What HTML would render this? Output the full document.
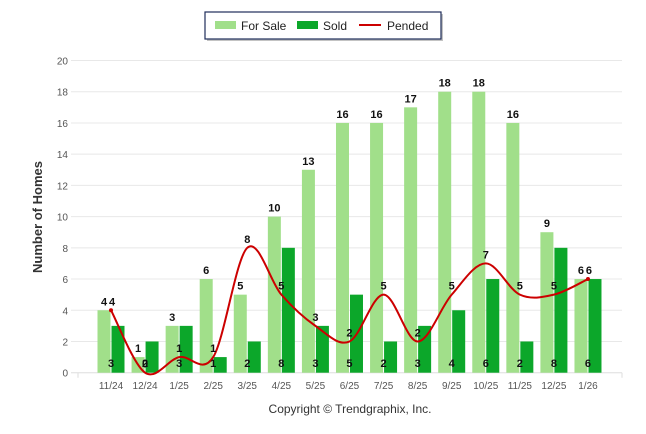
<!DOCTYPE html>
<html><head><meta charset="utf-8"><style>
html,body{margin:0;padding:0;background:#fff;}
svg{display:block;font-family:"Liberation Sans",Arial,sans-serif;}
</style></head><body>
<svg id="chart" width="646" height="434" viewBox="0 0 646 434" xmlns="http://www.w3.org/2000/svg">
<g id="grid"></g>
<g id="yticks"></g>
<g id="bars"></g>
<g id="line"></g>
<g id="labels"></g>
<g id="xticks"></g>
<text transform="translate(42,217) rotate(-90)" text-anchor="middle" font-size="13" font-weight="bold" fill="#333">Number of Homes</text>
<text x="350" y="413" text-anchor="middle" font-size="12" fill="#333">Copyright © Trendgraphix, Inc.</text>
<g>
<rect x="207" y="14" width="236" height="27" fill="#888" opacity="0.5"/>
<rect x="205" y="12" width="236" height="27" fill="#fff" stroke="#1f2d5a" stroke-width="1.2"/>
<g><rect x="215" y="21" width="21" height="8" fill="#a1df8a"/><text x="241" y="30" font-size="12" fill="#222">For Sale</text></g>
<g><rect x="297" y="21" width="21" height="8" fill="#0ca72a"/><text x="323" y="30" font-size="12" fill="#222">Sold</text></g>
<g><line x1="359" y1="25" x2="381" y2="25" stroke="#c00" stroke-width="2"/><text x="387" y="30" font-size="12" fill="#222">Pended</text></g>
</g>
</svg>
<script>
const categories=["11/24","12/24","1/25","2/25","3/25","4/25","5/25","6/25","7/25","8/25","9/25","10/25","11/25","12/25","1/26"];
const forSale=[4,1,3,6,5,10,13,16,16,17,18,18,16,9,6];
const sold=[3,2,3,1,2,8,3,5,2,3,4,6,2,8,6];
const pended=[4,0,1,1,8,5,3,2,5,2,5,7,5,5,6];
const yTicks=[0,2,4,6,8,10,12,14,16,18,20];
const NS="http://www.w3.org/2000/svg";
const y0=372.7,yTop=60.5,yMax=20;
function y(v){return y0-(v/yMax)*(y0-yTop);}
function xc(i){return 111+i*34.07;}
function mk(tag,attrs,parent,txt){const e=document.createElementNS(NS,tag);for(const k in attrs)e.setAttribute(k,attrs[k]);if(txt!==undefined)e.textContent=txt;parent.appendChild(e);return e;}
const grid=document.getElementById('grid'),yt=document.getElementById('yticks'),bars=document.getElementById('bars'),lab=document.getElementById('labels'),xt=document.getElementById('xticks'),ln=document.getElementById('line');
yTicks.forEach(v=>{
 const g=mk('line',{x1:71,x2:622,y1:y(v),y2:y(v),stroke:v===0?'#ddd':'#e8e8e8','stroke-width':1},grid);
 
 
 const t=mk('text',{x:68,y:y(v)+4,'text-anchor':'end','font-size':10,fill:'#555'},yt,v);
 
 
});
mk('line',{x1:78,x2:78,y1:y0,y2:y0+5,stroke:'#ddd'},xt);
mk('line',{x1:622,x2:622,y1:y0,y2:y0+5,stroke:'#ddd'},xt);
categories.forEach((c,i)=>{
 const cx=xc(i);
 const b1=mk('rect',{x:cx-13.5,y:y(forSale[i]),width:13,height:y0-y(forSale[i]),fill:'#a1df8a'},bars);
 
 
 const b2=mk('rect',{x:cx+0.5,y:y(sold[i]),width:13,height:y0-y(sold[i]),fill:'#0ca72a'},bars);
 
 
 const t1=mk('text',{x:cx-7,y:y(forSale[i])-5,'text-anchor':'middle','font-size':11,'font-weight':'bold',fill:'#111'},lab,forSale[i]);
 
 
 const t2=mk('text',{x:cx,y:367,'text-anchor':'middle','font-size':11,'font-weight':'bold',fill:'#111'},lab,sold[i]);
 
 
 const t3=mk('text',{x:cx+(i===0||i===14?1:0),y:y(pended[i])-5,'text-anchor':'middle','font-size':11,'font-weight':'bold',fill:'#111'},lab,pended[i]);
 
 
 const xl=mk('text',{x:cx,y:389,'text-anchor':'middle','font-size':10,fill:'#555'},xt,c);
 
 
});
const pts=pended.map((v,i)=>[xc(i),y(v)]);
let d='M'+pts[0][0]+','+pts[0][1];
for(let i=0;i<pts.length-1;i++){
 const p0=pts[i-1]||pts[i],p1=pts[i],p2=pts[i+1],p3=pts[i+2]||p2;
 const t=1/6;
 d+=' C'+(p1[0]+(p2[0]-p0[0])*t)+','+(p1[1]+(p2[1]-p0[1])*t)+' '+(p2[0]-(p3[0]-p1[0])*t)+','+(p2[1]-(p3[1]-p1[1])*t)+' '+p2[0]+','+p2[1];
}
const path=mk('path',{d:d,fill:'none',stroke:'#cc0000','stroke-width':2},ln);


[0,14].forEach(i=>{const c=mk('circle',{cx:pts[i][0],cy:pts[i][1],r:2,fill:'#cc0000'},ln);
 
 });
</script>
</body></html>
